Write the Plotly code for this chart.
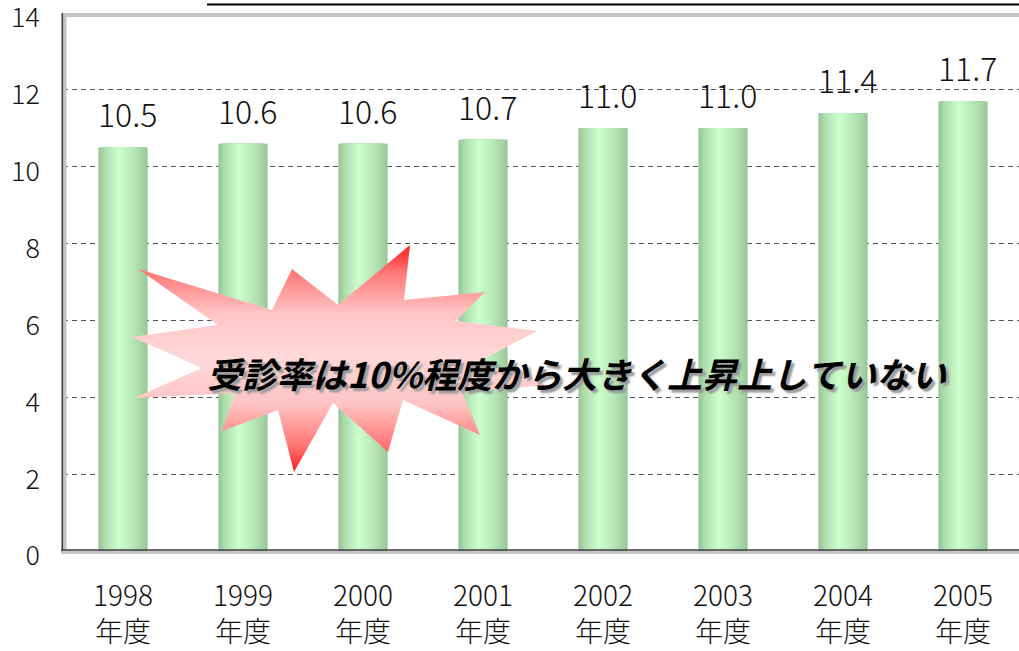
import plotly.graph_objects as go

# ---------------- data ----------------
years = ["1998", "1999", "2000", "2001", "2002", "2003", "2004", "2005"]
year_suffix = "年度"
rates = [10.5, 10.6, 10.6, 10.7, 11.0, 11.0, 11.4, 11.7]
y_ticks = [0, 2, 4, 6, 8, 10, 12, 14]
message = "受診率は10%程度から大きく上昇上していない"

# ---------------- geometry (pixels) ----------------
W, H = 1019, 651
PL, PR, PT, PB = 63, 1019, 13, 551
YMAX = 14
XMIN = -0.5
CAT_W = 120.0
XMAX = XMIN + (PR - PL) / CAT_W

FONT = "Noto Sans CJK JP"
LIGHT = "Noto Sans CJK JP Light, Noto Sans CJK JP DemiLight, Noto Sans CJK JP"


def fx(px):
    return px / W


def fy(py):
    return 1 - py / H


def px2data(px, py):
    return XMIN + (px - PL) / CAT_W, (PB - py) / (PB - PT) * YMAX


def mix(c1, c2, t):
    return "rgb(%d,%d,%d)" % tuple(round(a + (b - a) * t) for a, b in zip(c1, c2))


fig = go.Figure()

# ---------------- gradient bars (layered) ----------------
xs = list(range(len(years)))
BW = 0.41
PEAK = 0.42
N = 18
edge = (152, 197, 152)
center = (206, 255, 206)
for k in range(N):
    t = k / N
    s = t ** 0.75
    fig.add_bar(
        x=xs, y=rates,
        width=BW * (1 - t),
        offset=-BW / 2 + t * PEAK * BW,
        marker=dict(color=mix(edge, center, s), line=dict(width=0), opacity=1),
        showlegend=False,
        hoverinfo="skip" if k else "x+y",
    )

# ---------------- starburst ----------------
star_px = [(138, 269), (272, 310), (292, 269), (338, 305), (410, 245), (404, 300),
           (485, 292), (456, 321), (537, 331), (478, 362), (547, 385), (462, 392),
           (480, 435), (403, 400), (388, 452), (333, 403), (294, 472), (278, 410),
           (222, 431), (235, 393), (134, 398), (202, 368), (132, 337), (218, 325)]
sx, sy = zip(*[px2data(a, b) for a, b in star_px])
fig.add_trace(go.Scatter(
    x=list(sx) + [sx[0]], y=list(sy) + [sy[0]],
    mode="lines", line=dict(width=0), fill="toself",
    fillgradient=dict(type="vertical", colorscale=[
        [0.0, "#ff1c1c"], [0.12, "#ff7878"], [0.3, "#ffc4c4"], [0.5, "#ffd8d8"],
        [0.7, "#ffc4c4"], [0.88, "#ff7878"], [1.0, "#ff1c1c"]]),
    hoverinfo="skip", showlegend=False,
))

# ---------------- value labels ----------------
for x, v in zip(xs, rates):
    fig.add_annotation(x=x, y=v, text=f"{v:.1f}", showarrow=False,
                       yanchor="middle", yshift=34, xshift=4,
                       font=dict(family=LIGHT, size=32, color="#111"))

# ---------------- message ----------------
fig.add_annotation(x=fx(577), y=fy(372), xref="paper", yref="paper", text=message,
                   showarrow=False, xanchor="center", yanchor="middle",
                   font=dict(family=FONT, size=35, color="black", weight="bold",
                             style="italic", shadow="3px 3px 2px #9a9a9a"))

# ---------------- frame shapes ----------------
grey = "#c4c4c4"
dark = "#3c3c3c"
shapes = [
    dict(type="rect", x0=fx(62), x1=fx(1019), y0=fy(13), y1=fy(17), fillcolor=grey, line=dict(width=0)),
    dict(type="rect", x0=fx(63), x1=fx(66.5), y0=fy(13), y1=fy(550), fillcolor=grey, line=dict(width=0)),
    dict(type="rect", x0=fx(61), x1=fx(1019), y0=fy(551), y1=fy(554), fillcolor=grey, line=dict(width=0)),
    dict(type="line", x0=fx(62.3), x1=fx(62.3), y0=fy(13), y1=fy(551), line=dict(color=dark, width=1.6)),
    dict(type="line", x0=fx(61), x1=fx(1019), y0=fy(550), y1=fy(550), line=dict(color=dark, width=1.6)),
    # underline of the (cropped) heading
    dict(type="line", x0=fx(207), x1=fx(1019), y0=fy(4.5), y1=fy(4.5), line=dict(color="black", width=2)),
]
for s in shapes:
    s.update(xref="paper", yref="paper", layer="above")
fig.update_layout(shapes=shapes)

# ---------------- layout ----------------
fig.update_layout(
    width=W, height=H,
    margin=dict(l=0, r=0, t=0, b=0, autoexpand=False),
    paper_bgcolor="white", plot_bgcolor="white",
    barmode="overlay", showlegend=False,
    xaxis=dict(domain=[fx(PL), 1], range=[XMIN, XMAX], tickvals=xs, automargin=False,
               ticktext=[f"{y}<br>{year_suffix}" for y in years],
               tickfont=dict(family=LIGHT, size=28, color="#111"),
               showgrid=False, zeroline=False, showline=False, ticks="",
               ticklabelstandoff=26, ticklabeloverflow="allow"),
    yaxis=dict(domain=[fy(PB), fy(PT)], range=[0, YMAX], tickvals=y_ticks, automargin=False,
               tickfont=dict(family=LIGHT, size=27, color="#111"),
               showgrid=True, gridcolor="#555555", griddash="5px,4px", gridwidth=1,
               zeroline=False, showline=False, ticks="", ticklabelstandoff=22,
               ticklabelshift=5, ticklabeloverflow="allow"),
)

fig.write_html("out.html",
               config={"displayModeBar": False},
               post_script="document.body.style.margin='0';document.body.style.overflow='hidden';")
